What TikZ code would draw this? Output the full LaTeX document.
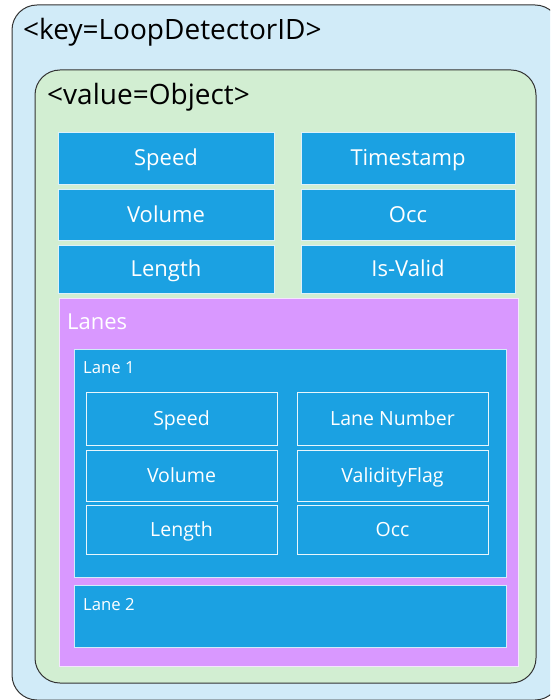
\documentclass[tikz,border=0pt]{standalone}
\usepackage{fontspec}
\setmainfont{Open Sans}
\definecolor{outerfill}{HTML}{D1EBF8}
\definecolor{greenfill}{HTML}{D2EED2}
\definecolor{bluefill}{HTML}{1BA1E2}
\definecolor{purplefill}{HTML}{D998FF}
\definecolor{darkline}{HTML}{333333}
\tikzset{
  container/.style={draw=darkline, line width=1pt, rounded corners=25pt, inner sep=0pt},
  bigfield/.style={fill=bluefill, draw=white!85!bluefill, line width=0.9pt, inner sep=0pt, text=white, font=\fontsize{22}{26}\selectfont, text height=15.7pt, text depth=0pt},
  smallfield/.style={fill=bluefill, draw=white!90!bluefill, line width=0.9pt, inner sep=0pt, text=white, font=\fontsize{19.5}{23}\selectfont, text height=13.9pt, text depth=0pt},
  lanebox/.style={fill=bluefill, draw=white!80!bluefill, line width=0.9pt, inner sep=0pt},
  title/.style={anchor=base west, inner sep=0pt, font=\fontsize{28}{33}\selectfont},
  lanelbl/.style={anchor=base west, inner sep=0pt, text=white, font=\fontsize{16.7}{20}\selectfont},
}
\begin{document}
\begin{tikzpicture}[x=1pt,y=-1pt]
\useasboundingbox (0,0) rectangle (550,700);
\clip (0,0) rectangle (550,700);
% containers
\node[container, fill=outerfill, minimum width=548pt, minimum height=695pt] (outer) at (286,352.5) {};
\node[title] (keylbl) at (23,40) {<key=LoopDetectorID>};
\node[container, fill=greenfill, minimum width=501pt, minimum height=613pt] (value) at (285.5,376.5) {};
\node[title] (valuelbl) at (47,105) {<value=Object>};
% top fields
\node[bigfield, minimum width=216pt, minimum height=52pt] (speed) at (166,158) {Speed};
\node[bigfield, minimum width=216pt, minimum height=51pt] (volume) at (166,214.5) {Volume};
\node[bigfield, minimum width=216pt, minimum height=48pt] (length) at (166,269) {Length};
\node[bigfield, minimum width=214pt, minimum height=52pt] (timestamp) at (408,158) {Timestamp};
\node[bigfield, minimum width=214pt, minimum height=51pt] (occ) at (408,214.5) {Occ};
\node[bigfield, minimum width=214pt, minimum height=48pt] (isvalid) at (408,269) {Is-Valid};
% lanes
\node[fill=purplefill, draw=white!75!purplefill, line width=0.9pt, inner sep=0pt, minimum width=459pt, minimum height=368pt] (lanes) at (288.5,482) {};
\node[title, text=white, font=\fontsize{22}{26}\selectfont] (laneslbl) at (67,329) {Lanes};
\node[lanebox, minimum width=432pt, minimum height=228pt] (lane1) at (290,463) {};
\node[lanelbl] (lane1lbl) at (83,373) {Lane 1};
\node[smallfield, minimum width=191pt, minimum height=53pt] (lspeed) at (181.5,418.5) {Speed};
\node[smallfield, minimum width=191pt, minimum height=51pt] (lvolume) at (181.5,475.5) {Volume};
\node[smallfield, minimum width=191pt, minimum height=49pt] (llength) at (181.5,529.5) {Length};
\node[smallfield, minimum width=191pt, minimum height=53pt] (lnumber) at (392.5,418.5) {Lane Number};
\node[smallfield, minimum width=191pt, minimum height=51pt] (lflag) at (392.5,475.5) {ValidityFlag};
\node[smallfield, minimum width=191pt, minimum height=49pt] (locc) at (392.5,529.5) {Occ};
\node[lanebox, minimum width=432pt, minimum height=62pt] (lane2) at (290,616) {};
\node[lanelbl] (lane2lbl) at (83,610) {Lane 2};
\end{tikzpicture}
\end{document}
